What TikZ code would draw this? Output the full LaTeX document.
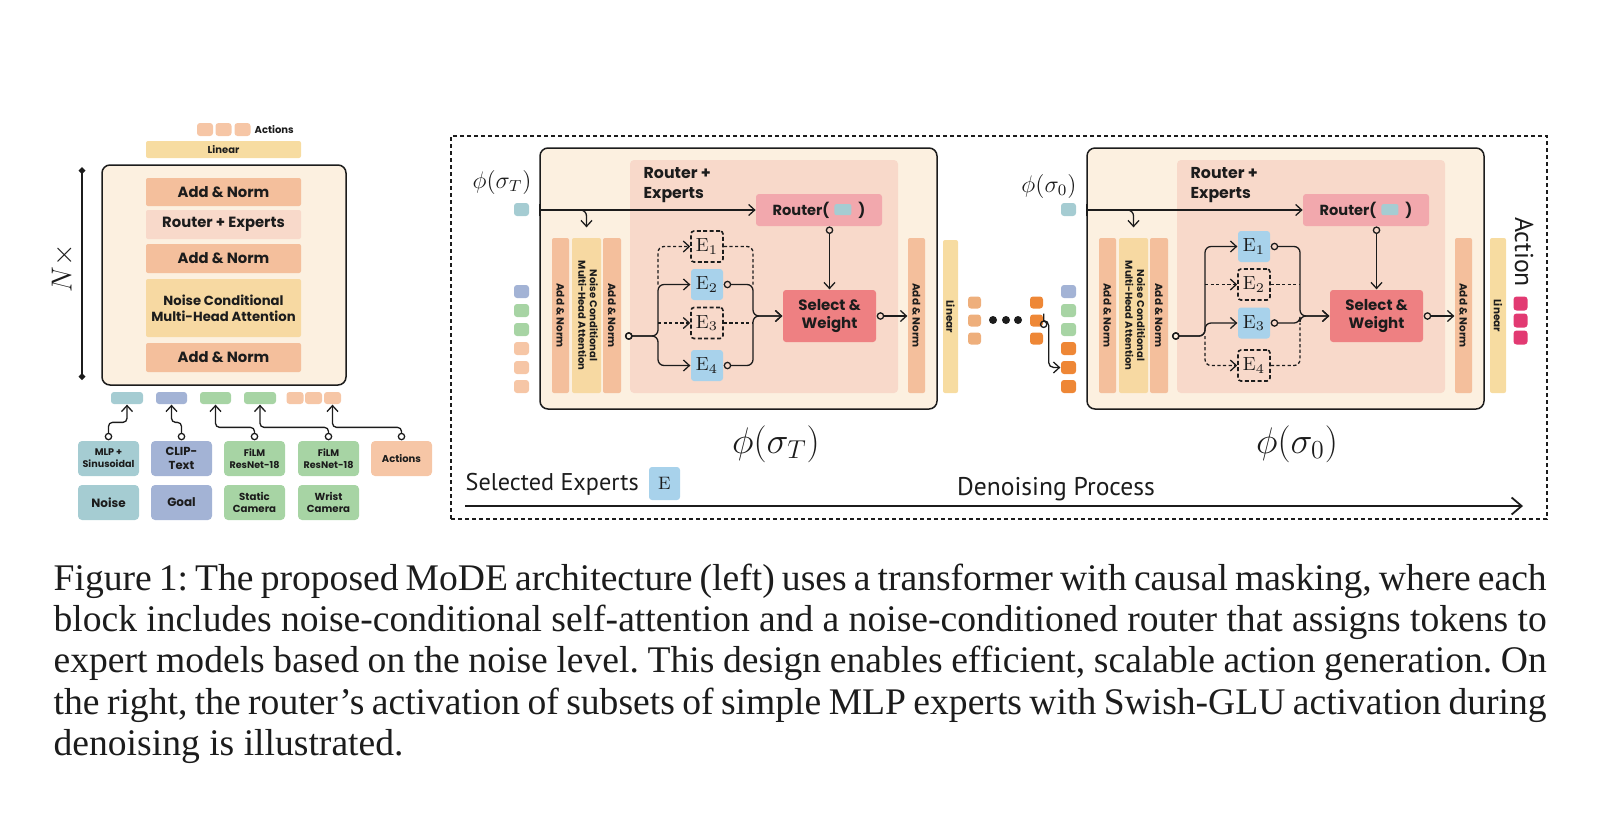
\documentclass[tikz,border=0pt]{standalone}
\usepackage{fix-cm}
\usepackage{fontspec}
\usetikzlibrary{arrows.meta,positioning,calc}

\newfontfamily\labelfont{Poppins}
\newfontfamily\notefont{PT Sans}
\newfontfamily\captionfont{Liberation Serif}
\newcommand{\bsz}[2]{\labelfont\bfseries\fontsize{#1}{#2}\selectfont}
\newcommand{\rtok}{\tikz[baseline=0pt]\fill[tteal, rounded corners=1pt] (0pt,0pt) rectangle (8.5pt,5.5pt);}

\definecolor{ink}{HTML}{1C1C1C}
\definecolor{cream}{HTML}{FCF0E0}
\definecolor{addnorm}{HTML}{F4BF9C}
\definecolor{mixer}{HTML}{F8D9CA}
\definecolor{attn}{HTML}{F7D9A2}
\definecolor{linear}{HTML}{F7DCA1}
\definecolor{router}{HTML}{F2A8AD}
\definecolor{select}{HTML}{EE8082}
\definecolor{expblue}{HTML}{A8D2EB}
\definecolor{tteal}{HTML}{A5CCD2}
\definecolor{tblue}{HTML}{A3B3D5}
\definecolor{tgreen}{HTML}{A7D4A4}
\definecolor{tpeach}{HTML}{F6C6A6}
\definecolor{tlight}{HTML}{EEAF7C}
\definecolor{tdark}{HTML}{EE8736}
\definecolor{tpink}{HTML}{E23A72}

\begin{document}
\begin{tikzpicture}[
  x=0.5pt, y=-0.5pt, line width=0.65pt, color=ink,
  >={Straight Barb[length=3pt,width=5.5pt]},
  ring/.tip={Circle[open,length=3.8pt,width=3.8pt]},
  layer/.style={rectangle, rounded corners=1pt, inner sep=0pt, minimum width=77.5pt, minimum height=14.5pt, font=\bsz{7.4}{8.6}},
  vbar/.style={rectangle, rounded corners=1pt, inner sep=0pt, minimum height=77.5pt, font=\bsz{5.2}{6}},
  token/.style={rectangle, rounded corners=1.5pt, inner sep=0pt, minimum width=7.5pt, minimum height=6.5pt},
  inbox/.style={rectangle, rounded corners=2pt, inner sep=0pt, minimum width=30.5pt, minimum height=17.5pt, align=center},
  expert/.style={rectangle, rounded corners=1.5pt, inner sep=0pt, fill=expblue, minimum width=16pt, minimum height=15.5pt, font=\fontsize{9.5}{10}\selectfont},
  idle/.style={expert, fill=none, draw, line width=0.8pt, dash pattern=on 2pt off 1.2pt},
  lazy/.style={dash pattern=on 1.6pt off 1.2pt},
  block/.style={rectangle, rounded corners=4pt, draw, line width=0.75pt, fill=cream, inner sep=0pt},
  region/.style={rectangle, rounded corners=2pt, fill=mixer, inner sep=0pt, minimum width=134pt, minimum height=116.5pt},
  routerbox/.style={rectangle, rounded corners=1.5pt, fill=router, inner sep=0pt, minimum width=63pt, minimum height=16pt, font=\bsz{7.3}{8}},
  selbox/.style={rectangle, rounded corners=1.5pt, fill=select, inner sep=0pt, minimum width=46.5pt, minimum height=26pt, align=center, font=\bsz{7.5}{8.8}}
]
\useasboundingbox (0,0) rectangle (1598,820);

% Left: transformer stack
\node[block, minimum width=122pt, minimum height=110pt] (stack) at (224,275) {};
\node[layer, fill=addnorm, minimum height=14pt] (an1) at (223.5,192) {Add \& Norm};
\node[layer, fill=mixer] (moe) at (223.5,224.5) {Router + Experts};
\node[layer, fill=addnorm] (an2) at (223.5,258.5) {Add \& Norm};
\node[layer, fill=attn, minimum height=29pt, align=center, font=\bsz{6.6}{8}] (attn) at (223.5,308) {Noise Conditional\\Multi-Head Attention};
\node[layer, fill=addnorm] (an3) at (223.5,357.5) {Add \& Norm};
\node[layer, fill=linear, minimum height=8.5pt, font=\bsz{5}{6}] (lin) at (223.5,149.5) {Linear};

% Output actions
\node[token, fill=tpeach, minimum width=8pt] (out1) at (205,129.5) {};
\node[token, fill=tpeach, minimum width=8pt] (out2) at (223.5,129.5) {};
\node[token, fill=tpeach, minimum width=8pt] (out3) at (242.5,129.5) {};
\node[anchor=west, inner sep=0pt, font=\bsz{5}{6}] (outlbl) at (254,130) {Actions};

% N x bracket
\coordinate (ntop) at (82,167);
\coordinate (nbot) at (82,380);
\draw[{Diamond[length=3.5pt,width=3.5pt]}-{Diamond[length=3.5pt,width=3.5pt]}] (ntop) -- (nbot);
\node[rotate=90, font=\fontsize{14.5}{16}\selectfont] (nx) at (63,268) {$N\times$};

% Input tokens
\node[token, fill=tteal, minimum width=16pt, minimum height=6pt] (in1) at (127,398) {};
\node[token, fill=tblue, minimum width=15.5pt, minimum height=6pt] (in2) at (171.5,398) {};
\node[token, fill=tgreen, minimum width=15.5pt, minimum height=6pt] (in3) at (215.5,398) {};
\node[token, fill=tgreen, minimum width=16pt, minimum height=6pt] (in4) at (260,398) {};
\node[token, fill=tpeach, minimum width=8.5pt, minimum height=6pt] (in5) at (295,398) {};
\node[token, fill=tpeach, minimum width=8.5pt, minimum height=6pt] (in6) at (313.5,398) {};
\node[token, fill=tpeach, minimum width=8.5pt, minimum height=6pt] (in7) at (332.5,398) {};

% Encoders and modalities
\node[inbox, fill=tteal, font=\bsz{4.8}{6}] (mlp) at (108.5,458.5) {MLP +\\Sinusoidal};
\node[inbox, fill=tblue, font=\bsz{5.8}{7}] (clip) at (181.5,458.5) {CLIP-\\Text};
\node[inbox, fill=tgreen, font=\bsz{4.8}{6}] (film1) at (254.5,458.5) {FiLM\\ResNet-18};
\node[inbox, fill=tgreen, font=\bsz{4.8}{6}] (film2) at (328.5,458.5) {FiLM\\ResNet-18};
\node[inbox, fill=tpeach, font=\bsz{5}{6}] (actin) at (401.5,458.5) {Actions};
\node[inbox, fill=tteal, font=\bsz{6}{7}] (noise) at (108.5,502.5) {Noise};
\node[inbox, fill=tblue, font=\bsz{6}{7}] (goal) at (181.5,502.5) {Goal};
\node[inbox, fill=tgreen, font=\bsz{5.1}{6}] (static) at (254.5,502.5) {Static\\Camera};
\node[inbox, fill=tgreen, font=\bsz{5.1}{6}] (wrist) at (328.5,502.5) {Wrist\\Camera};

\draw[ring->, rounded corners=2pt] (mlp.north) -- ++(0,-18) -| (in1.south);
\draw[ring->, rounded corners=2pt] (clip.north) -- ++(0,-18) -| (in2.south);
\draw[ring->, rounded corners=2pt] (film1.north) -- ++(0,-13) -| (in3.south);
\draw[ring->, rounded corners=2pt] (film2.north) -- ++(0,-13) -| (in4.south);
\draw[ring->, rounded corners=2pt] (actin.north) -- ++(0,-13) -| (in7.south);

% Right: denoising process frame
\node[rectangle, draw, line width=0.75pt, dash pattern=on 2pt off 1.5pt, minimum width=548pt, minimum height=191.5pt, inner sep=0pt] (den) at (999,327.5) {};

% First step, sigma_T
\node[block, minimum width=198.5pt, minimum height=130.5pt] (blkA) at (738.5,278.5) {};
\node[region] (regA) at (764,276.5) {};
\node[anchor=north west, align=left, inner sep=0pt, font=\bsz{7.9}{9.8}] (moeA) at (643,167) {Router +\\Experts};
\node[routerbox] (routerA) at (819,210) {Router(\hspace{2.5pt}\rtok\hspace{3.5pt})};
\node[selbox] (selA) at (829.5,316) {Select \&\\Weight};
\node[vbar, fill=addnorm, minimum width=8.5pt] (anA1) at (560.5,315.5) {\rotatebox{-90}{Add \& Norm}};
\node[vbar, fill=attn, minimum width=14.5pt, font=\bsz{5}{5.8}] (attnA) at (586.5,315.5) {\rotatebox{-90}{\begin{tabular}{@{}c@{}}Noise Conditional\\Multi-Head Attention\end{tabular}}};
\node[vbar, fill=addnorm, minimum width=9pt] (anA2) at (612,315.5) {\rotatebox{-90}{Add \& Norm}};
\node[vbar, fill=addnorm, minimum width=8.5pt] (anA3) at (916.5,315.5) {\rotatebox{-90}{Add \& Norm}};
\node[idle] (e1A) at (707,246.5) {$\mathrm{E}_1$};
\node[expert] (e2A) at (707,284.5) {$\mathrm{E}_2$};
\node[idle] (e3A) at (707,323) {$\mathrm{E}_3$};
\node[expert] (e4A) at (707,365.5) {$\mathrm{E}_4$};
\coordinate (inA) at (625,336);
\coordinate (brA) at (658,336);
\coordinate (mgA) at (753,316);

\node[token, fill=tteal] (a1) at (521.5,209.5) {};
\node[token, fill=tblue] (a2) at (521.5,291.5) {};
\node[token, fill=tgreen] (a3) at (521.5,310.5) {};
\node[token, fill=tgreen] (a4) at (521.5,329.5) {};
\node[token, fill=tpeach] (a5) at (521.5,348.5) {};
\node[token, fill=tpeach] (a6) at (521.5,367.5) {};
\node[token, fill=tpeach] (a7) at (521.5,386.5) {};
\node[font=\fontsize{12}{13}\selectfont] (phiA) at (502,182) {$\phi(\sigma_T)$};

\draw[{Bar[width=6pt]}->] (blkA.west |- routerA) -- (routerA.west);
\draw[->, rounded corners=3pt] ($(attnA.north |- routerA)+(-12,0)$) -| ($(attnA.north)+(0,-10)$);
\draw[ring->, rounded corners=3pt] (inA) -- (brA) |- (e2A.west);
\draw[ring->, rounded corners=3pt] (inA) -- (brA) |- (e4A.west);
\draw[lazy, ->, rounded corners=3pt] (brA |- e2A) |- (e1A.west);
\draw[lazy, ->] (brA |- e3A) -- (e3A.west);
\draw[ring->, rounded corners=3pt] (e2A.east) -| (mgA) -- (selA.west);
\draw[ring->, rounded corners=3pt] (e4A.east) -| (mgA) -- (selA.west);
\draw[lazy, rounded corners=3pt] (e1A.east) -| (mgA |- e2A);
\draw[lazy] (e3A.east) -- (mgA |- e3A);
\draw[ring->] (selA.north |- routerA.south) -- (selA.north);
\draw[ring->] (selA.east) -- (anA3.west |- selA.east);

% In between steps
\node[vbar, fill=linear, minimum width=7.5pt, minimum height=76.5pt] (linA) at (950.5,316.5) {\rotatebox{-90}{Linear}};
\node[token, fill=tlight, minimum width=6.5pt, minimum height=6pt] (m1) at (974.5,302.5) {};
\node[token, fill=tlight, minimum width=6.5pt, minimum height=6pt] (m2) at (974.5,320.5) {};
\node[token, fill=tlight, minimum width=6.5pt, minimum height=6pt] (m3) at (974.5,338.5) {};
\node[circle, fill, minimum size=4pt, inner sep=0pt] (dot1) at (993,320) {};
\node[circle, fill, minimum size=4pt, inner sep=0pt] (dot2) at (1006,320) {};
\node[circle, fill, minimum size=4pt, inner sep=0pt] (dot3) at (1018,320) {};
\node[token, fill=tdark, minimum width=6.5pt, minimum height=6pt] (d1) at (1036.5,302.5) {};
\node[token, fill=tdark, minimum width=6.5pt, minimum height=6pt] (d2) at (1036.5,320.5) {};
\node[token, fill=tdark, minimum width=6.5pt, minimum height=6pt] (d3) at (1036.5,338.5) {};

\node[token, fill=tteal] (b1) at (1068.5,209.5) {};
\node[token, fill=tblue] (b2) at (1068.5,291.5) {};
\node[token, fill=tgreen] (b3) at (1068.5,310.5) {};
\node[token, fill=tgreen] (b4) at (1068.5,329.5) {};
\node[token, fill=tdark] (b5) at (1068.5,348.5) {};
\node[token, fill=tdark] (b6) at (1068.5,367.5) {};
\node[token, fill=tdark] (b7) at (1068.5,386.5) {};
\node[font=\fontsize{12}{13}\selectfont] (phiB) at (1049,186) {$\phi(\sigma_0)$};
\draw[ring->, rounded corners=2.5pt] (d2.east) -- ++(5,0) |- (b6.west);

% Last step, sigma_0
\node[block, minimum width=198.5pt, minimum height=130.5pt] (blkB) at (1285.5,278.5) {};
\node[region] (regB) at (1311,276.5) {};
\node[anchor=north west, align=left, inner sep=0pt, font=\bsz{7.9}{9.8}] (moeB) at (1190,167) {Router +\\Experts};
\node[routerbox] (routerB) at (1366,210) {Router(\hspace{2.5pt}\rtok\hspace{3.5pt})};
\node[selbox] (selB) at (1376.5,316) {Select \&\\Weight};
\node[vbar, fill=addnorm, minimum width=8.5pt] (anB1) at (1107.5,315.5) {\rotatebox{-90}{Add \& Norm}};
\node[vbar, fill=attn, minimum width=14.5pt, font=\bsz{5}{5.8}] (attnB) at (1133.5,315.5) {\rotatebox{-90}{\begin{tabular}{@{}c@{}}Noise Conditional\\Multi-Head Attention\end{tabular}}};
\node[vbar, fill=addnorm, minimum width=9pt] (anB2) at (1159,315.5) {\rotatebox{-90}{Add \& Norm}};
\node[vbar, fill=addnorm, minimum width=8.5pt] (anB3) at (1463.5,315.5) {\rotatebox{-90}{Add \& Norm}};
\node[expert] (e1B) at (1254,246.5) {$\mathrm{E}_1$};
\node[idle] (e2B) at (1254,284.5) {$\mathrm{E}_2$};
\node[expert] (e3B) at (1254,323) {$\mathrm{E}_3$};
\node[idle] (e4B) at (1254,365.5) {$\mathrm{E}_4$};
\coordinate (inB) at (1172,336);
\coordinate (brB) at (1205,336);
\coordinate (mgB) at (1300,316);

\draw[{Bar[width=6pt]}->] (blkB.west |- routerB) -- (routerB.west);
\draw[->, rounded corners=3pt] ($(attnB.north |- routerB)+(-12,0)$) -| ($(attnB.north)+(0,-10)$);
\draw[ring->, rounded corners=3pt] (inB) -- (brB) |- (e1B.west);
\draw[ring->, rounded corners=3pt] (inB) -- (brB) |- (e3B.west);
\draw[lazy, ->, rounded corners=3pt] (brB) |- (e4B.west);
\draw[lazy, ->] (brB |- e2B) -- (e2B.west);
\draw[ring->, rounded corners=3pt] (e1B.east) -| (mgB) -- (selB.west);
\draw[ring->, rounded corners=3pt] (e3B.east) -| (mgB) -- (selB.west);
\draw[lazy] (e2B.east) -- (mgB |- e2B);
\draw[lazy, rounded corners=3pt] (e4B.east) -| (mgB |- e3B);
\draw[ring->] (selB.north |- routerB.south) -- (selB.north);
\draw[ring->] (selB.east) -- (anB3.west |- selB.east);

% Output head
\node[vbar, fill=linear, minimum width=8pt] (linB) at (1498,315.5) {\rotatebox{-90}{Linear}};
\node[rotate=-90, font=\notefont\fontsize{12.9}{14}\selectfont] (actlbl) at (1524,252) {Action};
\node[token, fill=tpink, minimum width=7pt, minimum height=7pt] (p1) at (1520.5,303.5) {};
\node[token, fill=tpink, minimum width=7pt, minimum height=7pt] (p2) at (1520.5,320.5) {};
\node[token, fill=tpink, minimum width=7pt, minimum height=7pt] (p3) at (1520.5,337.5) {};

% Legend and time axis
\node[anchor=base, font=\fontsize{18.5}{20}\selectfont] (phiTbig) at (776,453) {$\phi(\sigma_T)$};
\node[anchor=base, font=\fontsize{18.5}{20}\selectfont] (phi0big) at (1297,453) {$\phi(\sigma_0)$};
\node[anchor=base west, inner sep=0pt, font=\notefont\fontsize{12.1}{14}\selectfont] (sel) at (465,490) {Selected Experts};
\node[rectangle, rounded corners=1.5pt, fill=expblue, minimum width=15.5pt, minimum height=16.5pt, inner sep=0pt, font=\fontsize{9}{10}\selectfont] (legE) at (664.5,483.5) {$\mathrm{E}$};
\node[anchor=base, inner sep=0pt, font=\notefont\fontsize{12.8}{14}\selectfont] (proc) at (1056,495) {Denoising Process};
\coordinate (tA) at (465,506);
\coordinate (tB) at (1523,506);
\draw[-{Straight Barb[length=5pt,width=8.5pt]}, line width=0.9pt] (tA) -- (tB);

% Caption
\node[anchor=north west, inner sep=0pt, text width=746.5pt, align=justify, font=\captionfont\frenchspacing\fontsize{18.8}{20.7}\selectfont] (cap) at (53,563) {Figure 1: The proposed MoDE architecture (left) uses a transformer with causal masking, where each\linebreak block includes noise-conditional self-attention and a noise-conditioned router that assigns tokens to\linebreak expert models based on the noise level. This design enables efficient, scalable action generation. On\linebreak the right, the router’s activation of subsets of simple MLP experts with Swish-GLU activation during\linebreak denoising is illustrated.};

\end{tikzpicture}
\end{document}
